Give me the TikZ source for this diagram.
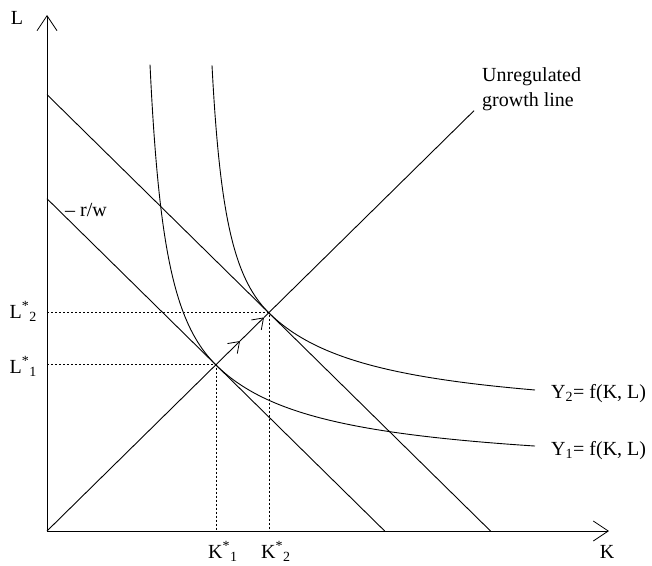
\documentclass[tikz,border=0pt]{standalone}
\usepackage{fontspec}
\setmainfont{Liberation Serif}
\usetikzlibrary{arrows.meta}
\begin{document}
\begin{tikzpicture}[x=1pt,y=-1pt,
  every node/.style={font=\fontsize{20}{24}\selectfont, inner sep=0pt},
  axisline/.style={line width=0.8pt, -{Straight Barb[length=15pt,width=20pt,line width=0.8pt]}},
  curveline/.style={line width=0.9pt},
  guideline/.style={line width=0.8pt, dash pattern=on 2pt off 2pt},
  dirarrow/.style={-{Straight Barb[length=10pt,width=14pt,line width=0.8pt]}}]
\useasboundingbox (0,0) rectangle (652,565);
% axes
\coordinate (O) at (47,531);
\coordinate (YT) at (47,15);
\coordinate (XT) at (609,531);
\draw[axisline] (O) -- (YT);
\draw[axisline] (O) -- (XT);
% budget lines
\coordinate (B1a) at (47,198.7);
\coordinate (B1b) at (384.7,531);
\coordinate (B2a) at (47,94.6);
\coordinate (B2b) at (490.5,531);
\draw[curveline] (B1a) -- (B1b);
\draw[curveline] (B2a) -- (B2b);
% tangency points
\coordinate (T1) at (216,364.7);
\coordinate (T2) at (269,312.5);
% growth line
\coordinate (A1) at (240,341.05);
\coordinate (A2) at (264,317.43);
\coordinate (G) at (474,110.7);
\draw[curveline,dirarrow] (O) -- (A1);
\draw[curveline,dirarrow] (A1) -- (A2);
\draw[curveline] (A2) -- (G);
% guides
\draw[guideline] (O |- T1) -- (T1) -- (T1 |- O);
\draw[guideline] (O |- T2) -- (T2) -- (T2 |- O);
% isoquants
\draw[curveline] plot[domain=103:169, samples=80, smooth] ({47+\x},{531-(83.15+6976/(\x-84.8))});
\draw[curveline] plot[domain=169:488, samples=140, smooth] ({47+\x},{531-(56.8+12113/(\x-58.05))});
\draw[curveline] plot[domain=165:222, samples=80, smooth] ({47+\x},{531-(145.5+5345/(\x-148.3))});
\draw[curveline] plot[domain=222:488, samples=140, smooth] ({47+\x},{531-(108.9+12102/(\x-111.1))});
% labels
\node (Llab) at (17,18) {L};
\node[anchor=base east] (L2) at (37,318) {L\textsuperscript{*}\textsubscript{2}};
\node[anchor=base east] (L1) at (37,373) {L\textsuperscript{*}\textsubscript{1}};
\node[anchor=base west] (K1) at (208,558) {K\textsuperscript{*}\textsubscript{1}};
\node[anchor=base west] (K2) at (261,558) {K\textsuperscript{*}\textsubscript{2}};
\node[anchor=base] (Klab) at (607,558) {K};
\node (rw) at (86,210) {\textendash\ r/w};
\node[anchor=base west] (Y2) at (551,398) {Y\textsubscript{2}= f(K, L)};
\node[anchor=base west] (Y1) at (551,455) {Y\textsubscript{1}= f(K, L)};
\node[anchor=base west, align=left, font=\fontsize{20}{25}\selectfont] (UG) at (482,106) {Unregulated\\growth line};
\end{tikzpicture}
\end{document}
